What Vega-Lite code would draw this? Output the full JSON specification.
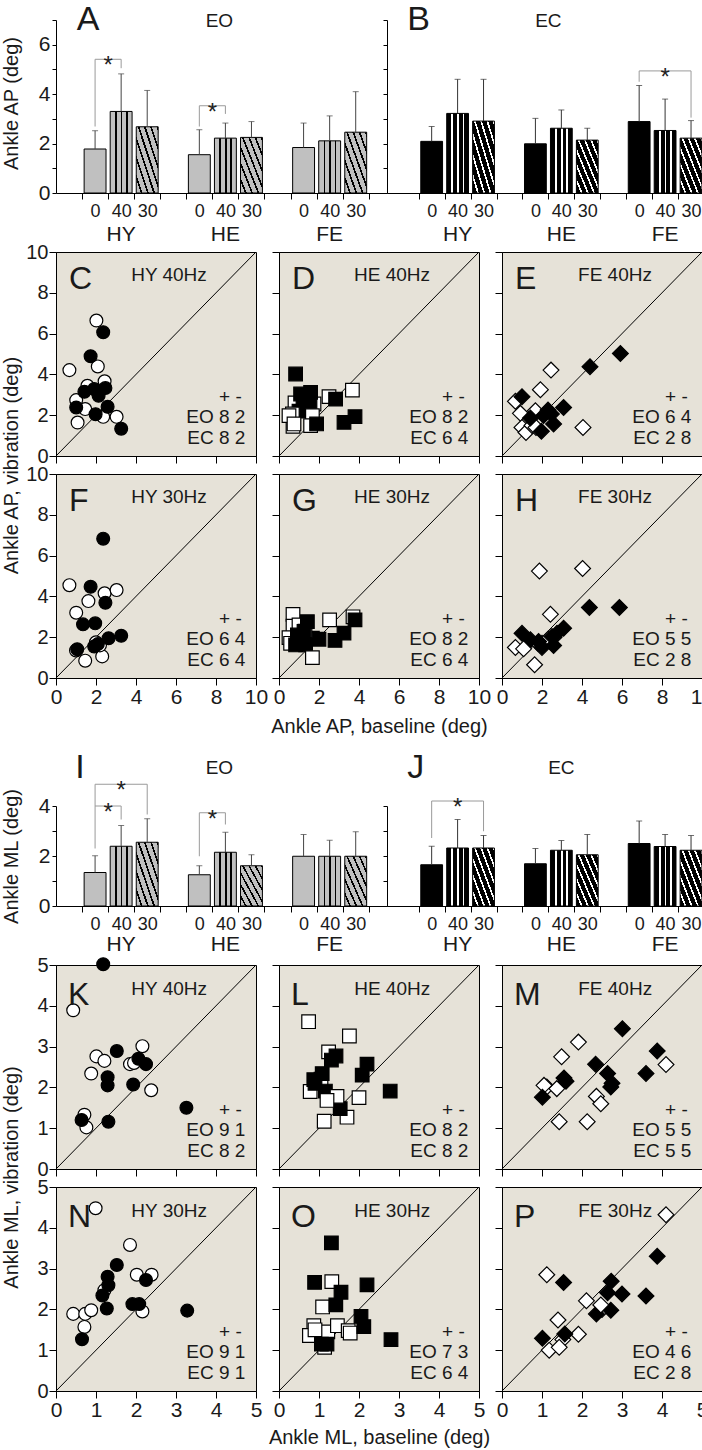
{
"$schema": "https://vega.github.io/schema/vega-lite/v6.json",
"padding": {"left": 0, "top": 3, "right": 0, "bottom": 0},
"background": "#ffffff",
"datasets": {
"bars": [
{"p":"A","bar":"HY 0","f":"0","m":1.78,"e":2.52},{"p":"A","bar":"HY 40","f":"40","m":3.30,"e":4.82},{"p":"A","bar":"HY 30","f":"30","m":2.68,"e":4.15},
{"p":"A","bar":"HE 0","f":"0","m":1.55,"e":2.56},{"p":"A","bar":"HE 40","f":"40","m":2.22,"e":2.83},{"p":"A","bar":"HE 30","f":"30","m":2.25,"e":2.89},
{"p":"A","bar":"FE 0","f":"0","m":1.84,"e":2.83},{"p":"A","bar":"FE 40","f":"40","m":2.11,"e":3.12},{"p":"A","bar":"FE 30","f":"30","m":2.46,"e":4.10},
{"p":"B","bar":"HY 0","f":"0","m":2.09,"e":2.69},{"p":"B","bar":"HY 40","f":"40","m":3.22,"e":4.60},{"p":"B","bar":"HY 30","f":"30","m":2.91,"e":4.60},
{"p":"B","bar":"HE 0","f":"0","m":1.99,"e":3.02},{"p":"B","bar":"HE 40","f":"40","m":2.62,"e":3.36},{"p":"B","bar":"HE 30","f":"30","m":2.14,"e":2.62},
{"p":"B","bar":"FE 0","f":"0","m":2.89,"e":4.35},{"p":"B","bar":"FE 40","f":"40","m":2.53,"e":3.80},{"p":"B","bar":"FE 30","f":"30","m":2.22,"e":2.93},
{"p":"I","bar":"HY 0","f":"0","m":1.34,"e":2.01},{"p":"I","bar":"HY 40","f":"40","m":2.39,"e":3.22},{"p":"I","bar":"HY 30","f":"30","m":2.55,"e":3.49},
{"p":"I","bar":"HE 0","f":"0","m":1.25,"e":1.61},{"p":"I","bar":"HE 40","f":"40","m":2.15,"e":2.95},{"p":"I","bar":"HE 30","f":"30","m":1.61,"e":2.05},
{"p":"I","bar":"FE 0","f":"0","m":1.99,"e":2.86},{"p":"I","bar":"FE 40","f":"40","m":1.99,"e":2.63},{"p":"I","bar":"FE 30","f":"30","m":1.99,"e":2.97},
{"p":"J","bar":"HY 0","f":"0","m":1.65,"e":2.39},{"p":"J","bar":"HY 40","f":"40","m":2.32,"e":3.46},{"p":"J","bar":"HY 30","f":"30","m":2.32,"e":2.82},
{"p":"J","bar":"HE 0","f":"0","m":1.69,"e":2.30},{"p":"J","bar":"HE 40","f":"40","m":2.23,"e":2.62},{"p":"J","bar":"HE 30","f":"30","m":2.05,"e":2.86},
{"p":"J","bar":"FE 0","f":"0","m":2.50,"e":3.40},{"p":"J","bar":"FE 40","f":"40","m":2.38,"e":2.86},{"p":"J","bar":"FE 30","f":"30","m":2.23,"e":2.82}
],
"grp": [{"bar":"HY 40","lab":"HY"},{"bar":"HE 40","lab":"HE"},{"bar":"FE 40","lab":"FE"}],
"brk": [
{"p":"A","id":"a1","k":1,"bar":"HY 0","y":2.69},{"p":"A","id":"a1","k":2,"bar":"HY 0","y":5.41},{"p":"A","id":"a1","k":3,"bar":"HY 40","y":5.41},{"p":"A","id":"a1","k":4,"bar":"HY 40","y":5.05},
{"p":"A","id":"a2","k":1,"bar":"HE 0","y":2.69},{"p":"A","id":"a2","k":2,"bar":"HE 0","y":3.53},{"p":"A","id":"a2","k":3,"bar":"HE 40","y":3.53},{"p":"A","id":"a2","k":4,"bar":"HE 40","y":3.2},
{"p":"B","id":"b1","k":1,"bar":"FE 0","y":4.5},{"p":"B","id":"b1","k":2,"bar":"FE 0","y":4.94},{"p":"B","id":"b1","k":3,"bar":"FE 30","y":4.94},{"p":"B","id":"b1","k":4,"bar":"FE 30","y":3.05},
{"p":"I","id":"i1","k":1,"bar":"HY 0","y":2.3},{"p":"I","id":"i1","k":2,"bar":"HY 0","y":4.0},{"p":"I","id":"i1","k":3,"bar":"HY 40","y":4.0},{"p":"I","id":"i1","k":4,"bar":"HY 40","y":3.46},
{"p":"I","id":"i2","k":1,"bar":"HY 0","y":4.0},{"p":"I","id":"i2","k":2,"bar":"HY 0","y":4.87},{"p":"I","id":"i2","k":3,"bar":"HY 30","y":4.87},{"p":"I","id":"i2","k":4,"bar":"HY 30","y":3.66},
{"p":"I","id":"i3","k":1,"bar":"HE 0","y":1.99},{"p":"I","id":"i3","k":2,"bar":"HE 0","y":3.73},{"p":"I","id":"i3","k":3,"bar":"HE 40","y":3.73},{"p":"I","id":"i3","k":4,"bar":"HE 40","y":3.26},
{"p":"J","id":"j1","k":1,"bar":"HY 0","y":2.72},{"p":"J","id":"j1","k":2,"bar":"HY 0","y":4.2},{"p":"J","id":"j1","k":3,"bar":"HY 30","y":4.2},{"p":"J","id":"j1","k":4,"bar":"HY 30","y":2.99}
],
"stars": [
{"p":"A","bar":"HY 40","y":5.41,"s":"adj"},{"p":"A","bar":"HE 40","y":3.53,"s":"adj"},
{"p":"B","bar":"FE 40","y":4.94,"s":"wide"},
{"p":"I","bar":"HY 40","y":4.0,"s":"adj"},{"p":"I","bar":"HY 40","y":4.87,"s":"wide"},{"p":"I","bar":"HE 40","y":3.73,"s":"adj"},
{"p":"J","bar":"HY 40","y":4.2,"s":"wide"}
],
"ann": [
{"p":"C","l":"C","t":"HY 40Hz","eo":"EO 8 2","ec":"EC 8 2"},
{"p":"D","l":"D","t":"HE 40Hz","eo":"EO 8 2","ec":"EC 6 4"},
{"p":"E","l":"E","t":"FE 40Hz","eo":"EO 6 4","ec":"EC 2 8"},
{"p":"F","l":"F","t":"HY 30Hz","eo":"EO 6 4","ec":"EC 6 4"},
{"p":"G","l":"G","t":"HE 30Hz","eo":"EO 8 2","ec":"EC 6 4"},
{"p":"H","l":"H","t":"FE 30Hz","eo":"EO 5 5","ec":"EC 2 8"},
{"p":"K","l":"K","t":"HY 40Hz","eo":"EO 9 1","ec":"EC 8 2"},
{"p":"L","l":"L","t":"HE 40Hz","eo":"EO 8 2","ec":"EC 8 2"},
{"p":"M","l":"M","t":"FE 40Hz","eo":"EO 5 5","ec":"EC 5 5"},
{"p":"N","l":"N","t":"HY 30Hz","eo":"EO 9 1","ec":"EC 9 1"},
{"p":"O","l":"O","t":"HE 30Hz","eo":"EO 7 3","ec":"EC 6 4"},
{"p":"P","l":"P","t":"FE 30Hz","eo":"EO 4 6","ec":"EC 2 8"}
],
"pts": [
{"p":"C","e":"EO","x":2.02,"y":6.64},{"p":"C","e":"EO","x":0.67,"y":4.21},{"p":"C","e":"EO","x":2.09,"y":4.39},{"p":"C","e":"EO","x":1.57,"y":3.44},{"p":"C","e":"EO","x":2.43,"y":3.66},{"p":"C","e":"EO","x":1.01,"y":2.74},{"p":"C","e":"EO","x":1.46,"y":2.30},{"p":"C","e":"EO","x":2.36,"y":1.92},{"p":"C","e":"EO","x":3.03,"y":1.92},{"p":"C","e":"EO","x":1.08,"y":1.64},
{"p":"C","e":"EC","x":2.36,"y":6.07},{"p":"C","e":"EC","x":1.73,"y":4.89},{"p":"C","e":"EC","x":1.42,"y":3.15},{"p":"C","e":"EC","x":1.91,"y":3.28},{"p":"C","e":"EC","x":2.13,"y":2.95},{"p":"C","e":"EC","x":2.47,"y":3.33},{"p":"C","e":"EC","x":1.01,"y":2.38},{"p":"C","e":"EC","x":2.58,"y":2.41},{"p":"C","e":"EC","x":1.98,"y":2.05},{"p":"C","e":"EC","x":3.26,"y":1.34},
{"p":"D","e":"EO","x":0.8,"y":2.6},{"p":"D","e":"EO","x":1.75,"y":2.55},{"p":"D","e":"EO","x":2.5,"y":2.91},{"p":"D","e":"EO","x":0.7,"y":1.45},
{"p":"D","e":"EC","x":0.83,"y":4.02},{"p":"D","e":"EC","x":1.58,"y":3.12},{"p":"D","e":"EC","x":1.08,"y":3.04},{"p":"D","e":"EC","x":2.83,"y":2.79},{"p":"D","e":"EC","x":3.25,"y":1.65},{"p":"D","e":"EC","x":3.8,"y":1.93},{"p":"D","e":"EC","x":1.2,"y":2.6},{"p":"D","e":"EC","x":1.55,"y":2.5},{"p":"D","e":"EC","x":1.0,"y":2.2},
{"p":"D","e":"EO","x":3.67,"y":3.23},{"p":"D","e":"EO","x":0.67,"y":2.06},{"p":"D","e":"EO","x":0.5,"y":1.98},{"p":"D","e":"EO","x":1.67,"y":1.98},{"p":"D","e":"EO","x":0.75,"y":1.57},{"p":"D","e":"EO","x":1.58,"y":1.49},
{"p":"D","e":"EC","x":1.88,"y":1.57},
{"p":"E","e":"EO","x":2.45,"y":4.21},{"p":"E","e":"EO","x":1.92,"y":3.25},{"p":"E","e":"EO","x":0.67,"y":2.68},{"p":"E","e":"EO","x":0.92,"y":2.09},{"p":"E","e":"EO","x":1.67,"y":2.22},{"p":"E","e":"EO","x":1.0,"y":1.4},{"p":"E","e":"EO","x":4.05,"y":1.4},{"p":"E","e":"EO","x":1.2,"y":1.15},{"p":"E","e":"EO","x":1.5,"y":1.5},{"p":"E","e":"EO","x":1.7,"y":1.4},
{"p":"E","e":"EC","x":5.92,"y":5.03},{"p":"E","e":"EC","x":4.4,"y":4.38},{"p":"E","e":"EC","x":1.0,"y":2.91},{"p":"E","e":"EC","x":3.08,"y":2.38},{"p":"E","e":"EC","x":1.42,"y":1.86},{"p":"E","e":"EC","x":2.08,"y":1.98},{"p":"E","e":"EC","x":2.47,"y":2.06},{"p":"E","e":"EC","x":2.58,"y":1.57},{"p":"E","e":"EC","x":1.97,"y":1.21},{"p":"E","e":"EC","x":2.3,"y":2.25},
{"p":"F","e":"EO","x":0.67,"y":4.55},{"p":"F","e":"EO","x":2.43,"y":4.15},{"p":"F","e":"EO","x":3.03,"y":4.31},{"p":"F","e":"EO","x":1.62,"y":3.77},{"p":"F","e":"EO","x":1.01,"y":3.20},{"p":"F","e":"EO","x":2.31,"y":1.06},{"p":"F","e":"EO","x":1.46,"y":0.85},{"p":"F","e":"EO","x":1.0,"y":1.35},{"p":"F","e":"EO","x":2.2,"y":1.6},{"p":"F","e":"EO","x":2.0,"y":1.75},
{"p":"F","e":"EC","x":2.36,"y":6.83},{"p":"F","e":"EC","x":1.73,"y":4.47},{"p":"F","e":"EC","x":2.47,"y":3.69},{"p":"F","e":"EC","x":1.35,"y":2.63},{"p":"F","e":"EC","x":1.96,"y":2.68},{"p":"F","e":"EC","x":2.63,"y":1.95},{"p":"F","e":"EC","x":3.26,"y":2.07},{"p":"F","e":"EC","x":2.09,"y":1.66},{"p":"F","e":"EC","x":1.91,"y":1.54},{"p":"F","e":"EC","x":1.06,"y":1.41},
{"p":"G","e":"EO","x":0.7,"y":3.12},{"p":"G","e":"EO","x":0.7,"y":2.54},{"p":"G","e":"EO","x":2.53,"y":2.85},{"p":"G","e":"EO","x":3.7,"y":3.0},{"p":"G","e":"EO","x":0.5,"y":1.98},{"p":"G","e":"EO","x":1.67,"y":1.95},{"p":"G","e":"EO","x":0.58,"y":1.7},{"p":"G","e":"EO","x":1.0,"y":2.6},{"p":"G","e":"EO","x":1.3,"y":2.3},
{"p":"G","e":"EC","x":1.42,"y":2.76},{"p":"G","e":"EC","x":1.25,"y":2.28},{"p":"G","e":"EC","x":3.8,"y":2.85},{"p":"G","e":"EC","x":3.25,"y":2.2},{"p":"G","e":"EC","x":2.8,"y":1.84},{"p":"G","e":"EC","x":2.0,"y":1.9},{"p":"G","e":"EC","x":0.92,"y":2.11},{"p":"G","e":"EC","x":0.83,"y":1.62},{"p":"G","e":"EC","x":1.33,"y":1.62},{"p":"G","e":"EC","x":1.1,"y":1.9},
{"p":"G","e":"EO","x":1.67,"y":1.0},
{"p":"H","e":"EO","x":2.0,"y":1.7},{"p":"H","e":"EO","x":2.3,"y":1.9},{"p":"H","e":"EO","x":2.6,"y":2.0},{"p":"H","e":"EO","x":1.8,"y":1.7},
{"p":"H","e":"EC","x":4.37,"y":3.46},{"p":"H","e":"EC","x":5.87,"y":3.46},{"p":"H","e":"EC","x":3.08,"y":2.44},{"p":"H","e":"EC","x":1.0,"y":2.19},{"p":"H","e":"EC","x":1.42,"y":1.87},{"p":"H","e":"EC","x":1.83,"y":1.79},{"p":"H","e":"EC","x":2.5,"y":2.03},{"p":"H","e":"EC","x":2.0,"y":1.5},{"p":"H","e":"EC","x":2.58,"y":1.59},{"p":"H","e":"EC","x":2.75,"y":2.19},
{"p":"H","e":"EO","x":1.87,"y":5.24},{"p":"H","e":"EO","x":4.03,"y":5.37},{"p":"H","e":"EO","x":2.42,"y":3.12},{"p":"H","e":"EO","x":0.67,"y":1.5},{"p":"H","e":"EO","x":1.08,"y":1.43},{"p":"H","e":"EO","x":1.63,"y":0.65},
{"p":"K","e":"EO","x":0.43,"y":3.89},{"p":"K","e":"EO","x":1.01,"y":2.76},{"p":"K","e":"EO","x":1.21,"y":2.65},{"p":"K","e":"EO","x":0.88,"y":2.34},{"p":"K","e":"EO","x":2.16,"y":3.01},{"p":"K","e":"EO","x":1.85,"y":2.57},{"p":"K","e":"EO","x":1.95,"y":2.6},{"p":"K","e":"EO","x":2.38,"y":1.93},{"p":"K","e":"EO","x":0.71,"y":1.33},{"p":"K","e":"EO","x":0.76,"y":1.02},
{"p":"K","e":"EC","x":1.18,"y":5.02},{"p":"K","e":"EC","x":1.52,"y":2.89},{"p":"K","e":"EC","x":1.29,"y":2.25},{"p":"K","e":"EC","x":1.29,"y":2.05},{"p":"K","e":"EC","x":2.06,"y":2.70},{"p":"K","e":"EC","x":2.25,"y":2.57},{"p":"K","e":"EC","x":1.93,"y":2.07},{"p":"K","e":"EC","x":3.26,"y":1.50},{"p":"K","e":"EC","x":0.64,"y":1.20},{"p":"K","e":"EC","x":1.31,"y":1.16},
{"p":"L","e":"EO","x":0.74,"y":3.61},{"p":"L","e":"EO","x":1.76,"y":3.26},{"p":"L","e":"EO","x":1.24,"y":2.87},{"p":"L","e":"EO","x":0.78,"y":1.9},{"p":"L","e":"EO","x":1.05,"y":2.2},{"p":"L","e":"EO","x":2.0,"y":1.75},{"p":"L","e":"EO","x":1.13,"y":1.17},{"p":"L","e":"EO","x":1.7,"y":1.27},
{"p":"L","e":"EC","x":1.425,"y":2.77},{"p":"L","e":"EC","x":1.31,"y":2.67},{"p":"L","e":"EC","x":2.2,"y":2.57},{"p":"L","e":"EC","x":2.08,"y":2.30},{"p":"L","e":"EC","x":1.08,"y":2.34},{"p":"L","e":"EC","x":0.87,"y":2.19},{"p":"L","e":"EC","x":1.16,"y":1.91},{"p":"L","e":"EC","x":2.78,"y":1.91},{"p":"L","e":"EC","x":1.53,"y":1.48},{"p":"L","e":"EC","x":0.9,"y":2.1},
{"p":"L","e":"EO","x":1.45,"y":1.78},{"p":"L","e":"EO","x":1.2,"y":1.68},
{"p":"M","e":"EO","x":1.91,"y":3.11},{"p":"M","e":"EO","x":4.10,"y":2.56},{"p":"M","e":"EO","x":1.49,"y":2.75},{"p":"M","e":"EO","x":1.12,"y":2.01},{"p":"M","e":"EO","x":1.37,"y":1.97},{"p":"M","e":"EO","x":2.36,"y":1.78},{"p":"M","e":"EO","x":2.47,"y":1.60},{"p":"M","e":"EO","x":1.43,"y":1.16},{"p":"M","e":"EO","x":2.13,"y":1.16},{"p":"M","e":"EO","x":1.05,"y":2.05},
{"p":"M","e":"EC","x":3.01,"y":3.44},{"p":"M","e":"EC","x":3.88,"y":2.89},{"p":"M","e":"EC","x":2.34,"y":2.57},{"p":"M","e":"EC","x":1.55,"y":2.23},{"p":"M","e":"EC","x":2.64,"y":2.34},{"p":"M","e":"EC","x":3.60,"y":2.34},{"p":"M","e":"EC","x":2.72,"y":2.01},{"p":"M","e":"EC","x":1.01,"y":1.76},{"p":"M","e":"EC","x":1.6,"y":2.15},{"p":"M","e":"EC","x":2.75,"y":2.1},
{"p":"N","e":"EO","x":0.99,"y":4.48},{"p":"N","e":"EO","x":1.85,"y":3.58},{"p":"N","e":"EO","x":1.21,"y":2.47},{"p":"N","e":"EO","x":2.02,"y":2.85},{"p":"N","e":"EO","x":2.39,"y":2.85},{"p":"N","e":"EO","x":2.16,"y":1.95},{"p":"N","e":"EO","x":0.43,"y":1.89},{"p":"N","e":"EO","x":0.73,"y":1.89},{"p":"N","e":"EO","x":0.88,"y":1.98},{"p":"N","e":"EO","x":0.71,"y":1.57},
{"p":"N","e":"EC","x":1.52,"y":3.09},{"p":"N","e":"EC","x":1.29,"y":2.80},{"p":"N","e":"EC","x":1.31,"y":2.59},{"p":"N","e":"EC","x":1.16,"y":2.34},{"p":"N","e":"EC","x":1.27,"y":2.02},{"p":"N","e":"EC","x":2.25,"y":2.72},{"p":"N","e":"EC","x":1.91,"y":2.13},{"p":"N","e":"EC","x":2.08,"y":2.13},{"p":"N","e":"EC","x":3.28,"y":1.97},{"p":"N","e":"EC","x":0.65,"y":1.27},
{"p":"O","e":"EO","x":1.32,"y":2.68},{"p":"O","e":"EO","x":1.09,"y":2.06},{"p":"O","e":"EO","x":0.87,"y":1.6},{"p":"O","e":"EO","x":0.76,"y":1.36},{"p":"O","e":"EO","x":1.22,"y":1.45},{"p":"O","e":"EO","x":1.46,"y":1.6},{"p":"O","e":"EO","x":1.73,"y":1.48},{"p":"O","e":"EO","x":1.78,"y":1.42},{"p":"O","e":"EO","x":1.14,"y":1.07},{"p":"O","e":"EO","x":0.9,"y":1.5},
{"p":"O","e":"EC","x":1.31,"y":3.63},{"p":"O","e":"EC","x":0.89,"y":2.66},{"p":"O","e":"EC","x":1.55,"y":2.42},{"p":"O","e":"EC","x":2.2,"y":2.60},{"p":"O","e":"EC","x":1.42,"y":2.11},{"p":"O","e":"EC","x":2.05,"y":1.83},{"p":"O","e":"EC","x":2.12,"y":1.58},{"p":"O","e":"EC","x":2.8,"y":1.26},{"p":"O","e":"EC","x":1.06,"y":1.15},{"p":"O","e":"EC","x":1.2,"y":1.15},
{"p":"P","e":"EO","x":4.10,"y":4.32},{"p":"P","e":"EO","x":1.12,"y":2.85},{"p":"P","e":"EO","x":1.40,"y":1.74},{"p":"P","e":"EO","x":1.91,"y":1.39},{"p":"P","e":"EO","x":1.52,"y":1.26},{"p":"P","e":"EO","x":1.18,"y":1.00},{"p":"P","e":"EO","x":1.43,"y":1.07},{"p":"P","e":"EO","x":2.5,"y":2.0},
{"p":"P","e":"EC","x":3.88,"y":3.30},{"p":"P","e":"EC","x":1.54,"y":2.66},{"p":"P","e":"EC","x":2.73,"y":2.69},{"p":"P","e":"EC","x":2.64,"y":2.41},{"p":"P","e":"EC","x":3.00,"y":2.38},{"p":"P","e":"EC","x":3.60,"y":2.33},{"p":"P","e":"EC","x":2.36,"y":1.89},{"p":"P","e":"EC","x":2.72,"y":1.98},{"p":"P","e":"EC","x":1.57,"y":1.40},{"p":"P","e":"EC","x":1.01,"y":1.29},
{"p":"P","e":"EO","x":2.11,"y":2.21},{"p":"P","e":"EO","x":2.47,"y":2.11}
]
},
"vconcat": [
{"vconcat": [
{"hconcat": [
{"width":331,"height":173,
"layer":[
{"data":{"name":"bars"},"transform":[{"filter":"datum.p=='A' && datum.f=='0'"}],"mark":{"type":"bar","width":{"band":0.84},"fill":"#c0c0c0","stroke":"#000","strokeWidth":1},
"encoding":{"x":{"field":"bar","type":"nominal","scale":{"domain":["HY 0","HY 40","HY 30","g1","HE 0","HE 40","HE 30","g2","FE 0","FE 40","FE 30"],"paddingInner":0,"paddingOuter":0.85,"align":0.588},"axis":{"title":null,"tickBand":"extent","tickSize":6,"labelPadding":3,"labelFontSize":18,"labelAngle":0,"labelOverlap":false,"labelBound":false,"labelExpr":"isString(datum.value) && indexof(datum.value,'g')!=0 ? slice(datum.value,3) : ''"}},
"y":{"field":"m","type":"quantitative","scale":{"domain":[0,7],"nice":false},"axis":{"title":"Ankle AP (deg)","values":[0,1,2,3,4,5,6,7],"tickCount":20,"format":"d","tickSize":4,"labelPadding":2,"titleX":-35,"titleY":83,"labelExpr":"datum.value % 2 == 0 ? datum.label : ''"}}}},
{"data":{"name":"bars"},"transform":[{"filter":"datum.p=='A' && datum.f=='40'"}],"mark":{"type":"bar","width":{"band":0.84},"stroke":"#000","strokeWidth":1,"fill":{"gradient":"linear","x1":0,"y1":0,"x2":1,"y2":0,"stops":[{"offset":0,"color":"#c0c0c0"},{"offset":0.22,"color":"#c0c0c0"},{"offset":0.22,"color":"#000000"},{"offset":0.3,"color":"#000000"},{"offset":0.3,"color":"#c0c0c0"},{"offset":0.48,"color":"#c0c0c0"},{"offset":0.48,"color":"#000000"},{"offset":0.56,"color":"#000000"},{"offset":0.56,"color":"#c0c0c0"},{"offset":0.73,"color":"#c0c0c0"},{"offset":0.73,"color":"#000000"},{"offset":0.81,"color":"#000000"},{"offset":0.81,"color":"#c0c0c0"},{"offset":1,"color":"#c0c0c0"}]}},
"encoding":{"x":{"field":"bar","type":"nominal"},"y":{"field":"m","type":"quantitative"}}},
{"data":{"name":"bars"},"transform":[{"filter":"datum.p=='A' && datum.f=='30'"}],"mark":{"type":"bar","width":{"band":0.84},"stroke":"#000","strokeWidth":1,"fill":{"gradient":"linear","x1":0,"y1":1,"x2":1,"y2":0,"stops":[{"offset":0,"color":"#c0c0c0"},{"offset":0.103,"color":"#c0c0c0"},{"offset":0.103,"color":"#000000"},{"offset":0.143,"color":"#000000"},{"offset":0.143,"color":"#c0c0c0"},{"offset":0.246,"color":"#c0c0c0"},{"offset":0.246,"color":"#000000"},{"offset":0.286,"color":"#000000"},{"offset":0.286,"color":"#c0c0c0"},{"offset":0.389,"color":"#c0c0c0"},{"offset":0.389,"color":"#000000"},{"offset":0.429,"color":"#000000"},{"offset":0.429,"color":"#c0c0c0"},{"offset":0.531,"color":"#c0c0c0"},{"offset":0.531,"color":"#000000"},{"offset":0.571,"color":"#000000"},{"offset":0.571,"color":"#c0c0c0"},{"offset":0.674,"color":"#c0c0c0"},{"offset":0.674,"color":"#000000"},{"offset":0.714,"color":"#000000"},{"offset":0.714,"color":"#c0c0c0"},{"offset":0.817,"color":"#c0c0c0"},{"offset":0.817,"color":"#000000"},{"offset":0.857,"color":"#000000"},{"offset":0.857,"color":"#c0c0c0"},{"offset":0.96,"color":"#c0c0c0"},{"offset":0.96,"color":"#000000"},{"offset":1,"color":"#000000"}]}},
"encoding":{"x":{"field":"bar","type":"nominal"},"y":{"field":"m","type":"quantitative"}}},
{"data":{"name":"bars"},"transform":[{"filter":"datum.p=='A'"}],"mark":{"type":"rule","color":"#444","strokeWidth":1},"encoding":{"x":{"field":"bar","type":"nominal"},"y":{"field":"m","type":"quantitative"},"y2":{"field":"e"}}},
{"data":{"name":"bars"},"transform":[{"filter":"datum.p=='A'"}],"mark":{"type":"tick","color":"#444","thickness":1,"size":6},"encoding":{"x":{"field":"bar","type":"nominal"},"y":{"field":"e","type":"quantitative"}}},
{"data":{"name":"brk"},"transform":[{"filter":"datum.p=='A'"}],"mark":{"type":"line","color":"#9a9a9a","strokeWidth":1},"encoding":{"x":{"field":"bar","type":"nominal"},"y":{"field":"y","type":"quantitative"},"detail":{"field":"id","type":"nominal"},"order":{"field":"k","type":"quantitative"}}},
{"data":{"name":"stars"},"transform":[{"filter":"datum.p=='A' && datum.s=='adj'"}],"mark":{"type":"text","text":"*","fontSize":24,"baseline":"middle","dy":7,"dx":-13,"color":"#222"},"encoding":{"x":{"field":"bar","type":"nominal"},"y":{"field":"y","type":"quantitative"}}},
{"data":{"name":"grp"},"mark":{"type":"text","fontSize":21,"baseline":"middle"},"encoding":{"x":{"field":"bar","type":"nominal"},"y":{"datum":-1.7,"type":"quantitative"},"text":{"field":"lab"}}},
{"data":{"values":[{}]},"mark":{"type":"text","text":"A","fontSize":34,"baseline":"middle","dx":-7},"encoding":{"x":{"datum":"HY 0","type":"nominal"},"y":{"datum":7.0,"type":"quantitative"}}},
{"data":{"values":[{}]},"mark":{"type":"text","text":"EO","fontSize":19,"baseline":"middle","dx":-6},"encoding":{"x":{"datum":"HE 40","type":"nominal"},"y":{"datum":6.97,"type":"quantitative"}}}
]},
{"width":317,"height":173,
"layer":[
{"data":{"name":"bars"},"transform":[{"filter":"datum.p=='B' && datum.f=='0'"}],"mark":{"type":"bar","width":{"band":0.84},"fill":"#000000","stroke":"#000","strokeWidth":1},
"encoding":{"x":{"field":"bar","type":"nominal","scale":{"domain":["HY 0","HY 40","HY 30","g1","HE 0","HE 40","HE 30","g2","FE 0","FE 40","FE 30"],"paddingInner":0,"paddingOuter":0.611,"align":1},"axis":{"title":null,"tickBand":"extent","tickSize":6,"labelPadding":3,"labelFontSize":18,"labelAngle":0,"labelOverlap":false,"labelBound":false,"labelExpr":"isString(datum.value) && indexof(datum.value,'g')!=0 ? slice(datum.value,3) : ''"}},
"y":{"field":"m","type":"quantitative","scale":{"domain":[0,7],"nice":false},"axis":{"title":null,"values":[0,1,2,3,4,5,6,7],"tickCount":20,"format":"d","tickSize":4,"labels":false}}}},
{"data":{"name":"bars"},"transform":[{"filter":"datum.p=='B' && datum.f=='40'"}],"mark":{"type":"bar","width":{"band":0.84},"stroke":"#000","strokeWidth":1,"fill":{"gradient":"linear","x1":0,"y1":0,"x2":1,"y2":0,"stops":[{"offset":0,"color":"#000000"},{"offset":0.22,"color":"#000000"},{"offset":0.22,"color":"#ffffff"},{"offset":0.3,"color":"#ffffff"},{"offset":0.3,"color":"#000000"},{"offset":0.48,"color":"#000000"},{"offset":0.48,"color":"#ffffff"},{"offset":0.56,"color":"#ffffff"},{"offset":0.56,"color":"#000000"},{"offset":0.73,"color":"#000000"},{"offset":0.73,"color":"#ffffff"},{"offset":0.81,"color":"#ffffff"},{"offset":0.81,"color":"#000000"},{"offset":1,"color":"#000000"}]}},
"encoding":{"x":{"field":"bar","type":"nominal"},"y":{"field":"m","type":"quantitative"}}},
{"data":{"name":"bars"},"transform":[{"filter":"datum.p=='B' && datum.f=='30'"}],"mark":{"type":"bar","width":{"band":0.84},"stroke":"#000","strokeWidth":1,"fill":{"gradient":"linear","x1":0,"y1":1,"x2":1,"y2":0,"stops":[{"offset":0,"color":"#000000"},{"offset":0.103,"color":"#000000"},{"offset":0.103,"color":"#ffffff"},{"offset":0.143,"color":"#ffffff"},{"offset":0.143,"color":"#000000"},{"offset":0.246,"color":"#000000"},{"offset":0.246,"color":"#ffffff"},{"offset":0.286,"color":"#ffffff"},{"offset":0.286,"color":"#000000"},{"offset":0.389,"color":"#000000"},{"offset":0.389,"color":"#ffffff"},{"offset":0.429,"color":"#ffffff"},{"offset":0.429,"color":"#000000"},{"offset":0.531,"color":"#000000"},{"offset":0.531,"color":"#ffffff"},{"offset":0.571,"color":"#ffffff"},{"offset":0.571,"color":"#000000"},{"offset":0.674,"color":"#000000"},{"offset":0.674,"color":"#ffffff"},{"offset":0.714,"color":"#ffffff"},{"offset":0.714,"color":"#000000"},{"offset":0.817,"color":"#000000"},{"offset":0.817,"color":"#ffffff"},{"offset":0.857,"color":"#ffffff"},{"offset":0.857,"color":"#000000"},{"offset":0.96,"color":"#000000"},{"offset":0.96,"color":"#ffffff"},{"offset":1,"color":"#ffffff"}]}},
"encoding":{"x":{"field":"bar","type":"nominal"},"y":{"field":"m","type":"quantitative"}}},
{"data":{"name":"bars"},"transform":[{"filter":"datum.p=='B'"}],"mark":{"type":"rule","color":"#333","strokeWidth":1},"encoding":{"x":{"field":"bar","type":"nominal"},"y":{"field":"m","type":"quantitative"},"y2":{"field":"e"}}},
{"data":{"name":"bars"},"transform":[{"filter":"datum.p=='B'"}],"mark":{"type":"tick","color":"#333","thickness":1,"size":6},"encoding":{"x":{"field":"bar","type":"nominal"},"y":{"field":"e","type":"quantitative"}}},
{"data":{"name":"brk"},"transform":[{"filter":"datum.p=='B'"}],"mark":{"type":"line","color":"#9a9a9a","strokeWidth":1},"encoding":{"x":{"field":"bar","type":"nominal"},"y":{"field":"y","type":"quantitative"},"detail":{"field":"id","type":"nominal"},"order":{"field":"k","type":"quantitative"}}},
{"data":{"name":"stars"},"transform":[{"filter":"datum.p=='B' && datum.s=='wide'"}],"mark":{"type":"text","text":"*","fontSize":24,"baseline":"middle","dy":7,"color":"#222"},"encoding":{"x":{"field":"bar","type":"nominal"},"y":{"field":"y","type":"quantitative"}}},
{"data":{"name":"grp"},"mark":{"type":"text","fontSize":21,"baseline":"middle"},"encoding":{"x":{"field":"bar","type":"nominal"},"y":{"datum":-1.7,"type":"quantitative"},"text":{"field":"lab"}}},
{"data":{"values":[{}]},"mark":{"type":"text","text":"B","fontSize":34,"baseline":"middle","dx":-13},"encoding":{"x":{"datum":"HY 0","type":"nominal"},"y":{"datum":7.0,"type":"quantitative"}}},
{"data":{"values":[{}]},"mark":{"type":"text","text":"EC","fontSize":19,"baseline":"middle","dx":-13},"encoding":{"x":{"datum":"HE 40","type":"nominal"},"y":{"datum":6.97,"type":"quantitative"}}}
]}
], "spacing": 0, "bounds": "flush"},
{"columns": 3, "spacing": {"row": 18, "column": 23}, "bounds": "flush", "concat": [
{"width":200,"height":204,"view":{"fill":"#e6e2d8","stroke":"#000","strokeWidth":1},"layer":[
{"data":{"values":[{}]},"mark":{"type":"rule","color":"#000","strokeWidth":1},"encoding":{"x":{"datum":0,"type":"quantitative"},"y":{"datum":0,"type":"quantitative"},"x2":{"datum":10},"y2":{"datum":10}}},
{"data":{"name":"pts"},"transform":[{"filter":"datum.p=='C'"}],"mark":{"type":"point","shape":"circle","filled":true,"size":165,"stroke":"#000","strokeWidth":1.2,"opacity":1},"encoding":{"x":{"field":"x","type":"quantitative","scale":{"domain":[0,10],"nice":false},"axis":{"values":[0,2,4,6,8,10],"tickCount":20,"format":"d","tickSize":7,"labels":false,"title":null}},"y":{"field":"y","type":"quantitative","scale":{"domain":[0,10],"nice":false},"axis":{"values":[0,2,4,6,8,10],"tickCount":20,"format":"d","tickSize":7,"labelPadding":1,"labelFontSize":20,"title":"Ankle AP, vibration (deg)","titleX":-35,"titleY":213}},"fill":{"field":"e","type":"nominal","scale":{"domain":["EO","EC"],"range":["#ffffff","#000000"]},"legend":null}}},
{"data":{"name":"ann"},"transform":[{"filter":"datum.p=='C'"}],"mark":{"type":"text","fontSize":32,"align":"left","baseline":"middle"},"encoding":{"x":{"datum":0.65,"type":"quantitative"},"y":{"datum":8.68,"type":"quantitative"},"text":{"field":"l"}}},
{"data":{"name":"ann"},"transform":[{"filter":"datum.p=='C'"}],"mark":{"type":"text","fontSize":19,"align":"center","baseline":"middle"},"encoding":{"x":{"datum":5.65,"type":"quantitative"},"y":{"datum":8.85,"type":"quantitative"},"text":{"field":"t"}}},
{"data":{"values":[{}]},"mark":{"type":"text","text":"+ -","fontSize":19,"align":"center","baseline":"middle"},"encoding":{"x":{"datum":8.72,"type":"quantitative"},"y":{"datum":2.9,"type":"quantitative"}}},
{"data":{"name":"ann"},"transform":[{"filter":"datum.p=='C'"}],"mark":{"type":"text","fontSize":19,"align":"right","baseline":"middle"},"encoding":{"x":{"datum":9.47,"type":"quantitative"},"y":{"datum":1.9,"type":"quantitative"},"text":{"field":"eo"}}},
{"data":{"name":"ann"},"transform":[{"filter":"datum.p=='C'"}],"mark":{"type":"text","fontSize":19,"align":"right","baseline":"middle"},"encoding":{"x":{"datum":9.47,"type":"quantitative"},"y":{"datum":0.9,"type":"quantitative"},"text":{"field":"ec"}}}
]},
{"width":200,"height":204,"view":{"fill":"#e6e2d8","stroke":"#000","strokeWidth":1},"layer":[
{"data":{"values":[{}]},"mark":{"type":"rule","color":"#000","strokeWidth":1},"encoding":{"x":{"datum":0,"type":"quantitative"},"y":{"datum":0,"type":"quantitative"},"x2":{"datum":10},"y2":{"datum":10}}},
{"data":{"name":"pts"},"transform":[{"filter":"datum.p=='D'"}],"mark":{"type":"point","shape":"square","filled":true,"size":185,"stroke":"#000","strokeWidth":1.2,"opacity":1},"encoding":{"x":{"field":"x","type":"quantitative","scale":{"domain":[0,10],"nice":false},"axis":{"values":[0,2,4,6,8,10],"tickCount":20,"format":"d","tickSize":7,"labels":false,"title":null}},"y":{"field":"y","type":"quantitative","scale":{"domain":[0,10],"nice":false},"axis":{"values":[0,2,4,6,8,10],"tickCount":20,"format":"d","tickSize":7,"labels":false,"title":null}},"fill":{"field":"e","type":"nominal","scale":{"domain":["EO","EC"],"range":["#ffffff","#000000"]},"legend":null}}},
{"data":{"name":"ann"},"transform":[{"filter":"datum.p=='D'"}],"mark":{"type":"text","fontSize":32,"align":"left","baseline":"middle"},"encoding":{"x":{"datum":0.65,"type":"quantitative"},"y":{"datum":8.68,"type":"quantitative"},"text":{"field":"l"}}},
{"data":{"name":"ann"},"transform":[{"filter":"datum.p=='D'"}],"mark":{"type":"text","fontSize":19,"align":"center","baseline":"middle"},"encoding":{"x":{"datum":5.65,"type":"quantitative"},"y":{"datum":8.85,"type":"quantitative"},"text":{"field":"t"}}},
{"data":{"values":[{}]},"mark":{"type":"text","text":"+ -","fontSize":19,"align":"center","baseline":"middle"},"encoding":{"x":{"datum":8.72,"type":"quantitative"},"y":{"datum":2.9,"type":"quantitative"}}},
{"data":{"name":"ann"},"transform":[{"filter":"datum.p=='D'"}],"mark":{"type":"text","fontSize":19,"align":"right","baseline":"middle"},"encoding":{"x":{"datum":9.47,"type":"quantitative"},"y":{"datum":1.9,"type":"quantitative"},"text":{"field":"eo"}}},
{"data":{"name":"ann"},"transform":[{"filter":"datum.p=='D'"}],"mark":{"type":"text","fontSize":19,"align":"right","baseline":"middle"},"encoding":{"x":{"datum":9.47,"type":"quantitative"},"y":{"datum":0.9,"type":"quantitative"},"text":{"field":"ec"}}}
]},
{"width":200,"height":204,"view":{"fill":"#e6e2d8","stroke":"#000","strokeWidth":1},"layer":[
{"data":{"values":[{}]},"mark":{"type":"rule","color":"#000","strokeWidth":1},"encoding":{"x":{"datum":0,"type":"quantitative"},"y":{"datum":0,"type":"quantitative"},"x2":{"datum":10},"y2":{"datum":10}}},
{"data":{"name":"pts"},"transform":[{"filter":"datum.p=='E'"}],"mark":{"type":"point","shape":"diamond","filled":true,"size":250,"stroke":"#000","strokeWidth":1.2,"opacity":1},"encoding":{"x":{"field":"x","type":"quantitative","scale":{"domain":[0,10],"nice":false},"axis":{"values":[0,2,4,6,8,10],"tickCount":20,"format":"d","tickSize":7,"labels":false,"title":null}},"y":{"field":"y","type":"quantitative","scale":{"domain":[0,10],"nice":false},"axis":{"values":[0,2,4,6,8,10],"tickCount":20,"format":"d","tickSize":7,"labels":false,"title":null}},"fill":{"field":"e","type":"nominal","scale":{"domain":["EO","EC"],"range":["#ffffff","#000000"]},"legend":null}}},
{"data":{"name":"ann"},"transform":[{"filter":"datum.p=='E'"}],"mark":{"type":"text","fontSize":32,"align":"left","baseline":"middle"},"encoding":{"x":{"datum":0.65,"type":"quantitative"},"y":{"datum":8.68,"type":"quantitative"},"text":{"field":"l"}}},
{"data":{"name":"ann"},"transform":[{"filter":"datum.p=='E'"}],"mark":{"type":"text","fontSize":19,"align":"center","baseline":"middle"},"encoding":{"x":{"datum":5.65,"type":"quantitative"},"y":{"datum":8.85,"type":"quantitative"},"text":{"field":"t"}}},
{"data":{"values":[{}]},"mark":{"type":"text","text":"+ -","fontSize":19,"align":"center","baseline":"middle"},"encoding":{"x":{"datum":8.72,"type":"quantitative"},"y":{"datum":2.9,"type":"quantitative"}}},
{"data":{"name":"ann"},"transform":[{"filter":"datum.p=='E'"}],"mark":{"type":"text","fontSize":19,"align":"right","baseline":"middle"},"encoding":{"x":{"datum":9.47,"type":"quantitative"},"y":{"datum":1.9,"type":"quantitative"},"text":{"field":"eo"}}},
{"data":{"name":"ann"},"transform":[{"filter":"datum.p=='E'"}],"mark":{"type":"text","fontSize":19,"align":"right","baseline":"middle"},"encoding":{"x":{"datum":9.47,"type":"quantitative"},"y":{"datum":0.9,"type":"quantitative"},"text":{"field":"ec"}}}
]},
{"width":200,"height":204,"view":{"fill":"#e6e2d8","stroke":"#000","strokeWidth":1},"layer":[
{"data":{"values":[{}]},"mark":{"type":"rule","color":"#000","strokeWidth":1},"encoding":{"x":{"datum":0,"type":"quantitative","axis":{"values":[0,2,4,6,8,10],"tickCount":20,"format":"d","tickSize":7,"labelPadding":1,"labelFlush":false,"labelOverlap":false,"title":null}},"y":{"datum":0,"type":"quantitative"},"x2":{"datum":10},"y2":{"datum":10}}},
{"data":{"name":"pts"},"transform":[{"filter":"datum.p=='F'"}],"mark":{"type":"point","shape":"circle","filled":true,"size":165,"stroke":"#000","strokeWidth":1.2,"opacity":1},"encoding":{"x":{"field":"x","type":"quantitative","scale":{"domain":[0,10],"nice":false},"axis":{"values":[0,2,4,6,8,10],"tickCount":20,"format":"d","tickSize":7,"labelPadding":1,"labelFlush":false,"labelOverlap":false,"title":null}},"y":{"field":"y","type":"quantitative","scale":{"domain":[0,10],"nice":false},"axis":{"values":[0,2,4,6,8,10],"tickCount":20,"format":"d","tickSize":7,"labelPadding":1,"labelFontSize":20,"title":null}},"fill":{"field":"e","type":"nominal","scale":{"domain":["EO","EC"],"range":["#ffffff","#000000"]},"legend":null}}},
{"data":{"name":"ann"},"transform":[{"filter":"datum.p=='F'"}],"mark":{"type":"text","fontSize":32,"align":"left","baseline":"middle"},"encoding":{"x":{"datum":0.65,"type":"quantitative"},"y":{"datum":8.68,"type":"quantitative"},"text":{"field":"l"}}},
{"data":{"name":"ann"},"transform":[{"filter":"datum.p=='F'"}],"mark":{"type":"text","fontSize":19,"align":"center","baseline":"middle"},"encoding":{"x":{"datum":5.65,"type":"quantitative"},"y":{"datum":8.85,"type":"quantitative"},"text":{"field":"t"}}},
{"data":{"values":[{}]},"mark":{"type":"text","text":"+ -","fontSize":19,"align":"center","baseline":"middle"},"encoding":{"x":{"datum":8.72,"type":"quantitative"},"y":{"datum":2.9,"type":"quantitative"}}},
{"data":{"name":"ann"},"transform":[{"filter":"datum.p=='F'"}],"mark":{"type":"text","fontSize":19,"align":"right","baseline":"middle"},"encoding":{"x":{"datum":9.47,"type":"quantitative"},"y":{"datum":1.9,"type":"quantitative"},"text":{"field":"eo"}}},
{"data":{"name":"ann"},"transform":[{"filter":"datum.p=='F'"}],"mark":{"type":"text","fontSize":19,"align":"right","baseline":"middle"},"encoding":{"x":{"datum":9.47,"type":"quantitative"},"y":{"datum":0.9,"type":"quantitative"},"text":{"field":"ec"}}}
]},
{"width":200,"height":204,"view":{"fill":"#e6e2d8","stroke":"#000","strokeWidth":1},"layer":[
{"data":{"values":[{}]},"mark":{"type":"rule","color":"#000","strokeWidth":1},"encoding":{"x":{"datum":0,"type":"quantitative","axis":{"values":[0,2,4,6,8,10],"tickCount":20,"format":"d","tickSize":7,"labelPadding":1,"labelFlush":false,"labelOverlap":false,"title":"Ankle AP, baseline (deg)","titlePadding":9}},"y":{"datum":0,"type":"quantitative"},"x2":{"datum":10},"y2":{"datum":10}}},
{"data":{"name":"pts"},"transform":[{"filter":"datum.p=='G'"}],"mark":{"type":"point","shape":"square","filled":true,"size":185,"stroke":"#000","strokeWidth":1.2,"opacity":1},"encoding":{"x":{"field":"x","type":"quantitative","scale":{"domain":[0,10],"nice":false},"axis":{"values":[0,2,4,6,8,10],"tickCount":20,"format":"d","tickSize":7,"labelPadding":1,"labelFlush":false,"labelOverlap":false,"title":"Ankle AP, baseline (deg)","titlePadding":9}},"y":{"field":"y","type":"quantitative","scale":{"domain":[0,10],"nice":false},"axis":{"values":[0,2,4,6,8,10],"tickCount":20,"format":"d","tickSize":7,"labels":false,"title":null}},"fill":{"field":"e","type":"nominal","scale":{"domain":["EO","EC"],"range":["#ffffff","#000000"]},"legend":null}}},
{"data":{"name":"ann"},"transform":[{"filter":"datum.p=='G'"}],"mark":{"type":"text","fontSize":32,"align":"left","baseline":"middle"},"encoding":{"x":{"datum":0.65,"type":"quantitative"},"y":{"datum":8.68,"type":"quantitative"},"text":{"field":"l"}}},
{"data":{"name":"ann"},"transform":[{"filter":"datum.p=='G'"}],"mark":{"type":"text","fontSize":19,"align":"center","baseline":"middle"},"encoding":{"x":{"datum":5.65,"type":"quantitative"},"y":{"datum":8.85,"type":"quantitative"},"text":{"field":"t"}}},
{"data":{"values":[{}]},"mark":{"type":"text","text":"+ -","fontSize":19,"align":"center","baseline":"middle"},"encoding":{"x":{"datum":8.72,"type":"quantitative"},"y":{"datum":2.9,"type":"quantitative"}}},
{"data":{"name":"ann"},"transform":[{"filter":"datum.p=='G'"}],"mark":{"type":"text","fontSize":19,"align":"right","baseline":"middle"},"encoding":{"x":{"datum":9.47,"type":"quantitative"},"y":{"datum":1.9,"type":"quantitative"},"text":{"field":"eo"}}},
{"data":{"name":"ann"},"transform":[{"filter":"datum.p=='G'"}],"mark":{"type":"text","fontSize":19,"align":"right","baseline":"middle"},"encoding":{"x":{"datum":9.47,"type":"quantitative"},"y":{"datum":0.9,"type":"quantitative"},"text":{"field":"ec"}}}
]},
{"width":200,"height":204,"view":{"fill":"#e6e2d8","stroke":"#000","strokeWidth":1},"layer":[
{"data":{"values":[{}]},"mark":{"type":"rule","color":"#000","strokeWidth":1},"encoding":{"x":{"datum":0,"type":"quantitative","axis":{"values":[0,2,4,6,8,10],"tickCount":20,"format":"d","tickSize":7,"labelPadding":1,"labelFlush":false,"labelOverlap":false,"title":null}},"y":{"datum":0,"type":"quantitative"},"x2":{"datum":10},"y2":{"datum":10}}},
{"data":{"name":"pts"},"transform":[{"filter":"datum.p=='H'"}],"mark":{"type":"point","shape":"diamond","filled":true,"size":250,"stroke":"#000","strokeWidth":1.2,"opacity":1},"encoding":{"x":{"field":"x","type":"quantitative","scale":{"domain":[0,10],"nice":false},"axis":{"values":[0,2,4,6,8,10],"tickCount":20,"format":"d","tickSize":7,"labelPadding":1,"labelFlush":false,"labelOverlap":false,"title":null}},"y":{"field":"y","type":"quantitative","scale":{"domain":[0,10],"nice":false},"axis":{"values":[0,2,4,6,8,10],"tickCount":20,"format":"d","tickSize":7,"labels":false,"title":null}},"fill":{"field":"e","type":"nominal","scale":{"domain":["EO","EC"],"range":["#ffffff","#000000"]},"legend":null}}},
{"data":{"name":"ann"},"transform":[{"filter":"datum.p=='H'"}],"mark":{"type":"text","fontSize":32,"align":"left","baseline":"middle"},"encoding":{"x":{"datum":0.65,"type":"quantitative"},"y":{"datum":8.68,"type":"quantitative"},"text":{"field":"l"}}},
{"data":{"name":"ann"},"transform":[{"filter":"datum.p=='H'"}],"mark":{"type":"text","fontSize":19,"align":"center","baseline":"middle"},"encoding":{"x":{"datum":5.65,"type":"quantitative"},"y":{"datum":8.85,"type":"quantitative"},"text":{"field":"t"}}},
{"data":{"values":[{}]},"mark":{"type":"text","text":"+ -","fontSize":19,"align":"center","baseline":"middle"},"encoding":{"x":{"datum":8.72,"type":"quantitative"},"y":{"datum":2.9,"type":"quantitative"}}},
{"data":{"name":"ann"},"transform":[{"filter":"datum.p=='H'"}],"mark":{"type":"text","fontSize":19,"align":"right","baseline":"middle"},"encoding":{"x":{"datum":9.47,"type":"quantitative"},"y":{"datum":1.9,"type":"quantitative"},"text":{"field":"eo"}}},
{"data":{"name":"ann"},"transform":[{"filter":"datum.p=='H'"}],"mark":{"type":"text","fontSize":19,"align":"right","baseline":"middle"},"encoding":{"x":{"datum":9.47,"type":"quantitative"},"y":{"datum":0.9,"type":"quantitative"},"text":{"field":"ec"}}}
]}
]}
], "spacing": -5},
{"vconcat": [
{"hconcat": [
{"width":331,"height":100,
"layer":[
{"data":{"name":"bars"},"transform":[{"filter":"datum.p=='I' && datum.f=='0'"}],"mark":{"type":"bar","width":{"band":0.84},"fill":"#c0c0c0","stroke":"#000","strokeWidth":1},
"encoding":{"x":{"field":"bar","type":"nominal","scale":{"domain":["HY 0","HY 40","HY 30","g1","HE 0","HE 40","HE 30","g2","FE 0","FE 40","FE 30"],"paddingInner":0,"paddingOuter":0.85,"align":0.588},"axis":{"title":null,"tickBand":"extent","tickSize":6,"labelPadding":3,"labelFontSize":18,"labelAngle":0,"labelOverlap":false,"labelBound":false,"labelExpr":"isString(datum.value) && indexof(datum.value,'g')!=0 ? slice(datum.value,3) : ''"}},
"y":{"field":"m","type":"quantitative","scale":{"domain":[0,4],"nice":false},"axis":{"title":"Ankle ML (deg)","values":[0,1,2,3,4],"tickCount":20,"format":"d","tickSize":4,"labelPadding":2,"titleX":-35,"titleY":50,"labelExpr":"datum.value % 2 == 0 ? datum.label : ''"}}}},
{"data":{"name":"bars"},"transform":[{"filter":"datum.p=='I' && datum.f=='40'"}],"mark":{"type":"bar","width":{"band":0.84},"stroke":"#000","strokeWidth":1,"fill":{"gradient":"linear","x1":0,"y1":0,"x2":1,"y2":0,"stops":[{"offset":0,"color":"#c0c0c0"},{"offset":0.22,"color":"#c0c0c0"},{"offset":0.22,"color":"#000000"},{"offset":0.3,"color":"#000000"},{"offset":0.3,"color":"#c0c0c0"},{"offset":0.48,"color":"#c0c0c0"},{"offset":0.48,"color":"#000000"},{"offset":0.56,"color":"#000000"},{"offset":0.56,"color":"#c0c0c0"},{"offset":0.73,"color":"#c0c0c0"},{"offset":0.73,"color":"#000000"},{"offset":0.81,"color":"#000000"},{"offset":0.81,"color":"#c0c0c0"},{"offset":1,"color":"#c0c0c0"}]}},
"encoding":{"x":{"field":"bar","type":"nominal"},"y":{"field":"m","type":"quantitative"}}},
{"data":{"name":"bars"},"transform":[{"filter":"datum.p=='I' && datum.f=='30'"}],"mark":{"type":"bar","width":{"band":0.84},"stroke":"#000","strokeWidth":1,"fill":{"gradient":"linear","x1":0,"y1":1,"x2":1,"y2":0,"stops":[{"offset":0,"color":"#c0c0c0"},{"offset":0.103,"color":"#c0c0c0"},{"offset":0.103,"color":"#000000"},{"offset":0.143,"color":"#000000"},{"offset":0.143,"color":"#c0c0c0"},{"offset":0.246,"color":"#c0c0c0"},{"offset":0.246,"color":"#000000"},{"offset":0.286,"color":"#000000"},{"offset":0.286,"color":"#c0c0c0"},{"offset":0.389,"color":"#c0c0c0"},{"offset":0.389,"color":"#000000"},{"offset":0.429,"color":"#000000"},{"offset":0.429,"color":"#c0c0c0"},{"offset":0.531,"color":"#c0c0c0"},{"offset":0.531,"color":"#000000"},{"offset":0.571,"color":"#000000"},{"offset":0.571,"color":"#c0c0c0"},{"offset":0.674,"color":"#c0c0c0"},{"offset":0.674,"color":"#000000"},{"offset":0.714,"color":"#000000"},{"offset":0.714,"color":"#c0c0c0"},{"offset":0.817,"color":"#c0c0c0"},{"offset":0.817,"color":"#000000"},{"offset":0.857,"color":"#000000"},{"offset":0.857,"color":"#c0c0c0"},{"offset":0.96,"color":"#c0c0c0"},{"offset":0.96,"color":"#000000"},{"offset":1,"color":"#000000"}]}},
"encoding":{"x":{"field":"bar","type":"nominal"},"y":{"field":"m","type":"quantitative"}}},
{"data":{"name":"bars"},"transform":[{"filter":"datum.p=='I'"}],"mark":{"type":"rule","color":"#444","strokeWidth":1},"encoding":{"x":{"field":"bar","type":"nominal"},"y":{"field":"m","type":"quantitative"},"y2":{"field":"e"}}},
{"data":{"name":"bars"},"transform":[{"filter":"datum.p=='I'"}],"mark":{"type":"tick","color":"#444","thickness":1,"size":6},"encoding":{"x":{"field":"bar","type":"nominal"},"y":{"field":"e","type":"quantitative"}}},
{"data":{"name":"brk"},"transform":[{"filter":"datum.p=='I'"}],"mark":{"type":"line","color":"#9a9a9a","strokeWidth":1},"encoding":{"x":{"field":"bar","type":"nominal"},"y":{"field":"y","type":"quantitative"},"detail":{"field":"id","type":"nominal"},"order":{"field":"k","type":"quantitative"}}},
{"data":{"name":"stars"},"transform":[{"filter":"datum.p=='I' && datum.s=='adj'"}],"mark":{"type":"text","text":"*","fontSize":24,"baseline":"middle","dy":7,"dx":-13,"color":"#222"},"encoding":{"x":{"field":"bar","type":"nominal"},"y":{"field":"y","type":"quantitative"}}},
{"data":{"name":"stars"},"transform":[{"filter":"datum.p=='I' && datum.s=='wide'"}],"mark":{"type":"text","text":"*","fontSize":24,"baseline":"middle","dy":7,"color":"#222"},"encoding":{"x":{"field":"bar","type":"nominal"},"y":{"field":"y","type":"quantitative"}}},
{"data":{"name":"grp"},"mark":{"type":"text","fontSize":21,"baseline":"middle"},"encoding":{"x":{"field":"bar","type":"nominal"},"y":{"datum":-1.56,"type":"quantitative"},"text":{"field":"lab"}}},
{"data":{"values":[{}]},"mark":{"type":"text","text":"I","fontSize":34,"baseline":"middle","dx":-15},"encoding":{"x":{"datum":"HY 0","type":"nominal"},"y":{"datum":5.52,"type":"quantitative"}}},
{"data":{"values":[{}]},"mark":{"type":"text","text":"EO","fontSize":19,"baseline":"middle","dx":-6},"encoding":{"x":{"datum":"HE 40","type":"nominal"},"y":{"datum":5.52,"type":"quantitative"}}}
]},
{"width":317,"height":100,
"layer":[
{"data":{"name":"bars"},"transform":[{"filter":"datum.p=='J' && datum.f=='0'"}],"mark":{"type":"bar","width":{"band":0.84},"fill":"#000000","stroke":"#000","strokeWidth":1},
"encoding":{"x":{"field":"bar","type":"nominal","scale":{"domain":["HY 0","HY 40","HY 30","g1","HE 0","HE 40","HE 30","g2","FE 0","FE 40","FE 30"],"paddingInner":0,"paddingOuter":0.611,"align":1},"axis":{"title":null,"tickBand":"extent","tickSize":6,"labelPadding":3,"labelFontSize":18,"labelAngle":0,"labelOverlap":false,"labelBound":false,"labelExpr":"isString(datum.value) && indexof(datum.value,'g')!=0 ? slice(datum.value,3) : ''"}},
"y":{"field":"m","type":"quantitative","scale":{"domain":[0,4],"nice":false},"axis":{"title":null,"values":[0,1,2,3,4],"tickCount":20,"format":"d","tickSize":4,"labels":false}}}},
{"data":{"name":"bars"},"transform":[{"filter":"datum.p=='J' && datum.f=='40'"}],"mark":{"type":"bar","width":{"band":0.84},"stroke":"#000","strokeWidth":1,"fill":{"gradient":"linear","x1":0,"y1":0,"x2":1,"y2":0,"stops":[{"offset":0,"color":"#000000"},{"offset":0.22,"color":"#000000"},{"offset":0.22,"color":"#ffffff"},{"offset":0.3,"color":"#ffffff"},{"offset":0.3,"color":"#000000"},{"offset":0.48,"color":"#000000"},{"offset":0.48,"color":"#ffffff"},{"offset":0.56,"color":"#ffffff"},{"offset":0.56,"color":"#000000"},{"offset":0.73,"color":"#000000"},{"offset":0.73,"color":"#ffffff"},{"offset":0.81,"color":"#ffffff"},{"offset":0.81,"color":"#000000"},{"offset":1,"color":"#000000"}]}},
"encoding":{"x":{"field":"bar","type":"nominal"},"y":{"field":"m","type":"quantitative"}}},
{"data":{"name":"bars"},"transform":[{"filter":"datum.p=='J' && datum.f=='30'"}],"mark":{"type":"bar","width":{"band":0.84},"stroke":"#000","strokeWidth":1,"fill":{"gradient":"linear","x1":0,"y1":1,"x2":1,"y2":0,"stops":[{"offset":0,"color":"#000000"},{"offset":0.103,"color":"#000000"},{"offset":0.103,"color":"#ffffff"},{"offset":0.143,"color":"#ffffff"},{"offset":0.143,"color":"#000000"},{"offset":0.246,"color":"#000000"},{"offset":0.246,"color":"#ffffff"},{"offset":0.286,"color":"#ffffff"},{"offset":0.286,"color":"#000000"},{"offset":0.389,"color":"#000000"},{"offset":0.389,"color":"#ffffff"},{"offset":0.429,"color":"#ffffff"},{"offset":0.429,"color":"#000000"},{"offset":0.531,"color":"#000000"},{"offset":0.531,"color":"#ffffff"},{"offset":0.571,"color":"#ffffff"},{"offset":0.571,"color":"#000000"},{"offset":0.674,"color":"#000000"},{"offset":0.674,"color":"#ffffff"},{"offset":0.714,"color":"#ffffff"},{"offset":0.714,"color":"#000000"},{"offset":0.817,"color":"#000000"},{"offset":0.817,"color":"#ffffff"},{"offset":0.857,"color":"#ffffff"},{"offset":0.857,"color":"#000000"},{"offset":0.96,"color":"#000000"},{"offset":0.96,"color":"#ffffff"},{"offset":1,"color":"#ffffff"}]}},
"encoding":{"x":{"field":"bar","type":"nominal"},"y":{"field":"m","type":"quantitative"}}},
{"data":{"name":"bars"},"transform":[{"filter":"datum.p=='J'"}],"mark":{"type":"rule","color":"#333","strokeWidth":1},"encoding":{"x":{"field":"bar","type":"nominal"},"y":{"field":"m","type":"quantitative"},"y2":{"field":"e"}}},
{"data":{"name":"bars"},"transform":[{"filter":"datum.p=='J'"}],"mark":{"type":"tick","color":"#333","thickness":1,"size":6},"encoding":{"x":{"field":"bar","type":"nominal"},"y":{"field":"e","type":"quantitative"}}},
{"data":{"name":"brk"},"transform":[{"filter":"datum.p=='J'"}],"mark":{"type":"line","color":"#9a9a9a","strokeWidth":1},"encoding":{"x":{"field":"bar","type":"nominal"},"y":{"field":"y","type":"quantitative"},"detail":{"field":"id","type":"nominal"},"order":{"field":"k","type":"quantitative"}}},
{"data":{"name":"stars"},"transform":[{"filter":"datum.p=='J' && datum.s=='wide'"}],"mark":{"type":"text","text":"*","fontSize":24,"baseline":"middle","dy":7,"color":"#222"},"encoding":{"x":{"field":"bar","type":"nominal"},"y":{"field":"y","type":"quantitative"}}},
{"data":{"name":"grp"},"mark":{"type":"text","fontSize":21,"baseline":"middle"},"encoding":{"x":{"field":"bar","type":"nominal"},"y":{"datum":-1.56,"type":"quantitative"},"text":{"field":"lab"}}},
{"data":{"values":[{}]},"mark":{"type":"text","text":"J","fontSize":34,"baseline":"middle","dx":-16},"encoding":{"x":{"datum":"HY 0","type":"nominal"},"y":{"datum":5.52,"type":"quantitative"}}},
{"data":{"values":[{}]},"mark":{"type":"text","text":"EC","fontSize":19,"baseline":"middle"},"encoding":{"x":{"datum":"HE 40","type":"nominal"},"y":{"datum":5.52,"type":"quantitative"}}}
]}
], "spacing": 0, "bounds": "flush"},
{"columns": 3, "spacing": {"row": 18, "column": 23}, "bounds": "flush", "concat": [
{"width":200,"height":204,"view":{"fill":"#e6e2d8","stroke":"#000","strokeWidth":1},"layer":[
{"data":{"values":[{}]},"mark":{"type":"rule","color":"#000","strokeWidth":1},"encoding":{"x":{"datum":0,"type":"quantitative"},"y":{"datum":0,"type":"quantitative"},"x2":{"datum":5},"y2":{"datum":5}}},
{"data":{"name":"pts"},"transform":[{"filter":"datum.p=='K'"}],"mark":{"type":"point","shape":"circle","filled":true,"size":165,"stroke":"#000","strokeWidth":1.2,"opacity":1},"encoding":{"x":{"field":"x","type":"quantitative","scale":{"domain":[0,5],"nice":false},"axis":{"values":[0,1,2,3,4,5],"tickCount":20,"format":"d","tickSize":7,"labels":false,"title":null}},"y":{"field":"y","type":"quantitative","scale":{"domain":[0,5],"nice":false},"axis":{"values":[0,1,2,3,4,5],"tickCount":20,"format":"d","tickSize":7,"labelPadding":1,"labelFontSize":20,"title":"Ankle ML, vibration (deg)","titleX":-35,"titleY":212}},"fill":{"field":"e","type":"nominal","scale":{"domain":["EO","EC"],"range":["#ffffff","#000000"]},"legend":null}}},
{"data":{"name":"ann"},"transform":[{"filter":"datum.p=='K'"}],"mark":{"type":"text","fontSize":32,"align":"left","baseline":"middle"},"encoding":{"x":{"datum":0.3,"type":"quantitative"},"y":{"datum":4.26,"type":"quantitative"},"text":{"field":"l"}}},
{"data":{"name":"ann"},"transform":[{"filter":"datum.p=='K'"}],"mark":{"type":"text","fontSize":19,"align":"center","baseline":"middle"},"encoding":{"x":{"datum":2.83,"type":"quantitative"},"y":{"datum":4.42,"type":"quantitative"},"text":{"field":"t"}}},
{"data":{"values":[{}]},"mark":{"type":"text","text":"+ -","fontSize":19,"align":"center","baseline":"middle"},"encoding":{"x":{"datum":4.36,"type":"quantitative"},"y":{"datum":1.45,"type":"quantitative"}}},
{"data":{"name":"ann"},"transform":[{"filter":"datum.p=='K'"}],"mark":{"type":"text","fontSize":19,"align":"right","baseline":"middle"},"encoding":{"x":{"datum":4.735,"type":"quantitative"},"y":{"datum":0.95,"type":"quantitative"},"text":{"field":"eo"}}},
{"data":{"name":"ann"},"transform":[{"filter":"datum.p=='K'"}],"mark":{"type":"text","fontSize":19,"align":"right","baseline":"middle"},"encoding":{"x":{"datum":4.735,"type":"quantitative"},"y":{"datum":0.45,"type":"quantitative"},"text":{"field":"ec"}}}
]},
{"width":200,"height":204,"view":{"fill":"#e6e2d8","stroke":"#000","strokeWidth":1},"layer":[
{"data":{"values":[{}]},"mark":{"type":"rule","color":"#000","strokeWidth":1},"encoding":{"x":{"datum":0,"type":"quantitative"},"y":{"datum":0,"type":"quantitative"},"x2":{"datum":5},"y2":{"datum":5}}},
{"data":{"name":"pts"},"transform":[{"filter":"datum.p=='L'"}],"mark":{"type":"point","shape":"square","filled":true,"size":185,"stroke":"#000","strokeWidth":1.2,"opacity":1},"encoding":{"x":{"field":"x","type":"quantitative","scale":{"domain":[0,5],"nice":false},"axis":{"values":[0,1,2,3,4,5],"tickCount":20,"format":"d","tickSize":7,"labels":false,"title":null}},"y":{"field":"y","type":"quantitative","scale":{"domain":[0,5],"nice":false},"axis":{"values":[0,1,2,3,4,5],"tickCount":20,"format":"d","tickSize":7,"labels":false,"title":null}},"fill":{"field":"e","type":"nominal","scale":{"domain":["EO","EC"],"range":["#ffffff","#000000"]},"legend":null}}},
{"data":{"name":"ann"},"transform":[{"filter":"datum.p=='L'"}],"mark":{"type":"text","fontSize":32,"align":"left","baseline":"middle"},"encoding":{"x":{"datum":0.3,"type":"quantitative"},"y":{"datum":4.26,"type":"quantitative"},"text":{"field":"l"}}},
{"data":{"name":"ann"},"transform":[{"filter":"datum.p=='L'"}],"mark":{"type":"text","fontSize":19,"align":"center","baseline":"middle"},"encoding":{"x":{"datum":2.83,"type":"quantitative"},"y":{"datum":4.42,"type":"quantitative"},"text":{"field":"t"}}},
{"data":{"values":[{}]},"mark":{"type":"text","text":"+ -","fontSize":19,"align":"center","baseline":"middle"},"encoding":{"x":{"datum":4.36,"type":"quantitative"},"y":{"datum":1.45,"type":"quantitative"}}},
{"data":{"name":"ann"},"transform":[{"filter":"datum.p=='L'"}],"mark":{"type":"text","fontSize":19,"align":"right","baseline":"middle"},"encoding":{"x":{"datum":4.735,"type":"quantitative"},"y":{"datum":0.95,"type":"quantitative"},"text":{"field":"eo"}}},
{"data":{"name":"ann"},"transform":[{"filter":"datum.p=='L'"}],"mark":{"type":"text","fontSize":19,"align":"right","baseline":"middle"},"encoding":{"x":{"datum":4.735,"type":"quantitative"},"y":{"datum":0.45,"type":"quantitative"},"text":{"field":"ec"}}}
]},
{"width":200,"height":204,"view":{"fill":"#e6e2d8","stroke":"#000","strokeWidth":1},"layer":[
{"data":{"values":[{}]},"mark":{"type":"rule","color":"#000","strokeWidth":1},"encoding":{"x":{"datum":0,"type":"quantitative"},"y":{"datum":0,"type":"quantitative"},"x2":{"datum":5},"y2":{"datum":5}}},
{"data":{"name":"pts"},"transform":[{"filter":"datum.p=='M'"}],"mark":{"type":"point","shape":"diamond","filled":true,"size":250,"stroke":"#000","strokeWidth":1.2,"opacity":1},"encoding":{"x":{"field":"x","type":"quantitative","scale":{"domain":[0,5],"nice":false},"axis":{"values":[0,1,2,3,4,5],"tickCount":20,"format":"d","tickSize":7,"labels":false,"title":null}},"y":{"field":"y","type":"quantitative","scale":{"domain":[0,5],"nice":false},"axis":{"values":[0,1,2,3,4,5],"tickCount":20,"format":"d","tickSize":7,"labels":false,"title":null}},"fill":{"field":"e","type":"nominal","scale":{"domain":["EO","EC"],"range":["#ffffff","#000000"]},"legend":null}}},
{"data":{"name":"ann"},"transform":[{"filter":"datum.p=='M'"}],"mark":{"type":"text","fontSize":32,"align":"left","baseline":"middle"},"encoding":{"x":{"datum":0.3,"type":"quantitative"},"y":{"datum":4.26,"type":"quantitative"},"text":{"field":"l"}}},
{"data":{"name":"ann"},"transform":[{"filter":"datum.p=='M'"}],"mark":{"type":"text","fontSize":19,"align":"center","baseline":"middle"},"encoding":{"x":{"datum":2.83,"type":"quantitative"},"y":{"datum":4.42,"type":"quantitative"},"text":{"field":"t"}}},
{"data":{"values":[{}]},"mark":{"type":"text","text":"+ -","fontSize":19,"align":"center","baseline":"middle"},"encoding":{"x":{"datum":4.36,"type":"quantitative"},"y":{"datum":1.45,"type":"quantitative"}}},
{"data":{"name":"ann"},"transform":[{"filter":"datum.p=='M'"}],"mark":{"type":"text","fontSize":19,"align":"right","baseline":"middle"},"encoding":{"x":{"datum":4.735,"type":"quantitative"},"y":{"datum":0.95,"type":"quantitative"},"text":{"field":"eo"}}},
{"data":{"name":"ann"},"transform":[{"filter":"datum.p=='M'"}],"mark":{"type":"text","fontSize":19,"align":"right","baseline":"middle"},"encoding":{"x":{"datum":4.735,"type":"quantitative"},"y":{"datum":0.45,"type":"quantitative"},"text":{"field":"ec"}}}
]},
{"width":200,"height":204,"view":{"fill":"#e6e2d8","stroke":"#000","strokeWidth":1},"layer":[
{"data":{"values":[{}]},"mark":{"type":"rule","color":"#000","strokeWidth":1},"encoding":{"x":{"datum":0,"type":"quantitative","axis":{"values":[0,1,2,3,4,5],"tickCount":20,"format":"d","tickSize":7,"labelPadding":1,"labelFlush":false,"labelOverlap":false,"title":null}},"y":{"datum":0,"type":"quantitative"},"x2":{"datum":5},"y2":{"datum":5}}},
{"data":{"name":"pts"},"transform":[{"filter":"datum.p=='N'"}],"mark":{"type":"point","shape":"circle","filled":true,"size":165,"stroke":"#000","strokeWidth":1.2,"opacity":1},"encoding":{"x":{"field":"x","type":"quantitative","scale":{"domain":[0,5],"nice":false},"axis":{"values":[0,1,2,3,4,5],"tickCount":20,"format":"d","tickSize":7,"labelPadding":1,"labelFlush":false,"labelOverlap":false,"title":null}},"y":{"field":"y","type":"quantitative","scale":{"domain":[0,5],"nice":false},"axis":{"values":[0,1,2,3,4,5],"tickCount":20,"format":"d","tickSize":7,"labelPadding":1,"labelFontSize":20,"title":null}},"fill":{"field":"e","type":"nominal","scale":{"domain":["EO","EC"],"range":["#ffffff","#000000"]},"legend":null}}},
{"data":{"name":"ann"},"transform":[{"filter":"datum.p=='N'"}],"mark":{"type":"text","fontSize":32,"align":"left","baseline":"middle"},"encoding":{"x":{"datum":0.3,"type":"quantitative"},"y":{"datum":4.26,"type":"quantitative"},"text":{"field":"l"}}},
{"data":{"name":"ann"},"transform":[{"filter":"datum.p=='N'"}],"mark":{"type":"text","fontSize":19,"align":"center","baseline":"middle"},"encoding":{"x":{"datum":2.83,"type":"quantitative"},"y":{"datum":4.42,"type":"quantitative"},"text":{"field":"t"}}},
{"data":{"values":[{}]},"mark":{"type":"text","text":"+ -","fontSize":19,"align":"center","baseline":"middle"},"encoding":{"x":{"datum":4.36,"type":"quantitative"},"y":{"datum":1.45,"type":"quantitative"}}},
{"data":{"name":"ann"},"transform":[{"filter":"datum.p=='N'"}],"mark":{"type":"text","fontSize":19,"align":"right","baseline":"middle"},"encoding":{"x":{"datum":4.735,"type":"quantitative"},"y":{"datum":0.95,"type":"quantitative"},"text":{"field":"eo"}}},
{"data":{"name":"ann"},"transform":[{"filter":"datum.p=='N'"}],"mark":{"type":"text","fontSize":19,"align":"right","baseline":"middle"},"encoding":{"x":{"datum":4.735,"type":"quantitative"},"y":{"datum":0.45,"type":"quantitative"},"text":{"field":"ec"}}}
]},
{"width":200,"height":204,"view":{"fill":"#e6e2d8","stroke":"#000","strokeWidth":1},"layer":[
{"data":{"values":[{}]},"mark":{"type":"rule","color":"#000","strokeWidth":1},"encoding":{"x":{"datum":0,"type":"quantitative","axis":{"values":[0,1,2,3,4,5],"tickCount":20,"format":"d","tickSize":7,"labelPadding":1,"labelFlush":false,"labelOverlap":false,"title":"Ankle ML, baseline (deg)","titlePadding":7}},"y":{"datum":0,"type":"quantitative"},"x2":{"datum":5},"y2":{"datum":5}}},
{"data":{"name":"pts"},"transform":[{"filter":"datum.p=='O'"}],"mark":{"type":"point","shape":"square","filled":true,"size":185,"stroke":"#000","strokeWidth":1.2,"opacity":1},"encoding":{"x":{"field":"x","type":"quantitative","scale":{"domain":[0,5],"nice":false},"axis":{"values":[0,1,2,3,4,5],"tickCount":20,"format":"d","tickSize":7,"labelPadding":1,"labelFlush":false,"labelOverlap":false,"title":"Ankle ML, baseline (deg)","titlePadding":7}},"y":{"field":"y","type":"quantitative","scale":{"domain":[0,5],"nice":false},"axis":{"values":[0,1,2,3,4,5],"tickCount":20,"format":"d","tickSize":7,"labels":false,"title":null}},"fill":{"field":"e","type":"nominal","scale":{"domain":["EO","EC"],"range":["#ffffff","#000000"]},"legend":null}}},
{"data":{"name":"ann"},"transform":[{"filter":"datum.p=='O'"}],"mark":{"type":"text","fontSize":32,"align":"left","baseline":"middle"},"encoding":{"x":{"datum":0.3,"type":"quantitative"},"y":{"datum":4.26,"type":"quantitative"},"text":{"field":"l"}}},
{"data":{"name":"ann"},"transform":[{"filter":"datum.p=='O'"}],"mark":{"type":"text","fontSize":19,"align":"center","baseline":"middle"},"encoding":{"x":{"datum":2.83,"type":"quantitative"},"y":{"datum":4.42,"type":"quantitative"},"text":{"field":"t"}}},
{"data":{"values":[{}]},"mark":{"type":"text","text":"+ -","fontSize":19,"align":"center","baseline":"middle"},"encoding":{"x":{"datum":4.36,"type":"quantitative"},"y":{"datum":1.45,"type":"quantitative"}}},
{"data":{"name":"ann"},"transform":[{"filter":"datum.p=='O'"}],"mark":{"type":"text","fontSize":19,"align":"right","baseline":"middle"},"encoding":{"x":{"datum":4.735,"type":"quantitative"},"y":{"datum":0.95,"type":"quantitative"},"text":{"field":"eo"}}},
{"data":{"name":"ann"},"transform":[{"filter":"datum.p=='O'"}],"mark":{"type":"text","fontSize":19,"align":"right","baseline":"middle"},"encoding":{"x":{"datum":4.735,"type":"quantitative"},"y":{"datum":0.45,"type":"quantitative"},"text":{"field":"ec"}}}
]},
{"width":200,"height":204,"view":{"fill":"#e6e2d8","stroke":"#000","strokeWidth":1},"layer":[
{"data":{"values":[{}]},"mark":{"type":"rule","color":"#000","strokeWidth":1},"encoding":{"x":{"datum":0,"type":"quantitative","axis":{"values":[0,1,2,3,4,5],"tickCount":20,"format":"d","tickSize":7,"labelPadding":1,"labelFlush":false,"labelOverlap":false,"title":null}},"y":{"datum":0,"type":"quantitative"},"x2":{"datum":5},"y2":{"datum":5}}},
{"data":{"name":"pts"},"transform":[{"filter":"datum.p=='P'"}],"mark":{"type":"point","shape":"diamond","filled":true,"size":250,"stroke":"#000","strokeWidth":1.2,"opacity":1},"encoding":{"x":{"field":"x","type":"quantitative","scale":{"domain":[0,5],"nice":false},"axis":{"values":[0,1,2,3,4,5],"tickCount":20,"format":"d","tickSize":7,"labelPadding":1,"labelFlush":false,"labelOverlap":false,"title":null}},"y":{"field":"y","type":"quantitative","scale":{"domain":[0,5],"nice":false},"axis":{"values":[0,1,2,3,4,5],"tickCount":20,"format":"d","tickSize":7,"labels":false,"title":null}},"fill":{"field":"e","type":"nominal","scale":{"domain":["EO","EC"],"range":["#ffffff","#000000"]},"legend":null}}},
{"data":{"name":"ann"},"transform":[{"filter":"datum.p=='P'"}],"mark":{"type":"text","fontSize":32,"align":"left","baseline":"middle"},"encoding":{"x":{"datum":0.3,"type":"quantitative"},"y":{"datum":4.26,"type":"quantitative"},"text":{"field":"l"}}},
{"data":{"name":"ann"},"transform":[{"filter":"datum.p=='P'"}],"mark":{"type":"text","fontSize":19,"align":"center","baseline":"middle"},"encoding":{"x":{"datum":2.83,"type":"quantitative"},"y":{"datum":4.42,"type":"quantitative"},"text":{"field":"t"}}},
{"data":{"values":[{}]},"mark":{"type":"text","text":"+ -","fontSize":19,"align":"center","baseline":"middle"},"encoding":{"x":{"datum":4.36,"type":"quantitative"},"y":{"datum":1.45,"type":"quantitative"}}},
{"data":{"name":"ann"},"transform":[{"filter":"datum.p=='P'"}],"mark":{"type":"text","fontSize":19,"align":"right","baseline":"middle"},"encoding":{"x":{"datum":4.735,"type":"quantitative"},"y":{"datum":0.95,"type":"quantitative"},"text":{"field":"eo"}}},
{"data":{"name":"ann"},"transform":[{"filter":"datum.p=='P'"}],"mark":{"type":"text","fontSize":19,"align":"right","baseline":"middle"},"encoding":{"x":{"datum":4.735,"type":"quantitative"},"y":{"datum":0.45,"type":"quantitative"},"text":{"field":"ec"}}}
]}
]}
], "spacing": -1}
],
"spacing": 14,
"config": {
"font": "Liberation Sans",
"view": {"stroke": null},
"axis": {"grid": false, "domainColor": "#000000", "tickColor": "#000000", "labelColor": "#1a1a1a", "titleColor": "#1a1a1a", "labelFontSize": 21, "titleFontSize": 20, "titleFontWeight": "normal", "labelFont": "Liberation Sans", "titleFont": "Liberation Sans", "domainWidth": 1, "tickWidth": 1},
"text": {"color": "#1a1a1a", "font": "Liberation Sans"}
}
}
